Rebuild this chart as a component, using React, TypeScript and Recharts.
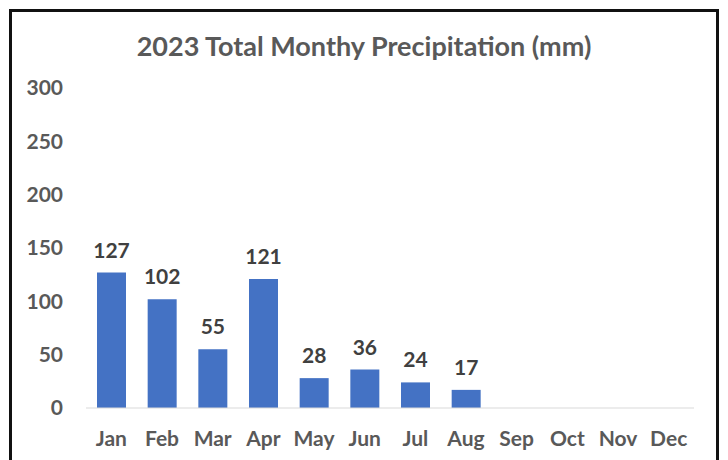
import React from 'react';
import { BarChart, Bar, XAxis, YAxis, LabelList } from 'recharts';

const months = ['Jan', 'Feb', 'Mar', 'Apr', 'May', 'Jun', 'Jul', 'Aug', 'Sep', 'Oct', 'Nov', 'Dec'];
const precipitation: (number | null)[] = [127, 102, 55, 121, 28, 36, 24, 17, null, null, null, null];
const yTicks = [0, 50, 100, 150, 200, 250, 300];

const data = months.map((m, i) => ({ month: m, value: precipitation[i] }));

const FONT = 'Lato, "Open Sans", sans-serif';

export default function App() {
  return (
    <div style={{ position: 'absolute', left: 0, top: 0, width: 728, height: 460, overflow: 'hidden', background: '#fff', fontFamily: FONT }}>
      <div style={{ position: 'absolute', left: 9, top: 9, width: 704, height: 480, border: '3px solid #111' }} />
      <div style={{ position: 'absolute', left: 0, top: 29, width: 728, textAlign: 'center', fontSize: 27, fontWeight: 700, color: '#595959', lineHeight: '34px' }}>
        2023 Total Monthy Precipitation (mm)
      </div>
      <div style={{ position: 'absolute', left: 0, top: 0 }}>
        <BarChart width={728} height={460} data={data} margin={{ top: 88, right: 34, bottom: 0, left: 10 }}>
          <YAxis
            width={76}
            domain={[0, 300]}
            ticks={yTicks}
            axisLine={false}
            tickLine={false}
            tickSize={0}
            tickMargin={23}
            tick={{ fill: '#595959', fontSize: 21, fontWeight: 700, fontFamily: FONT }}
          />
          <XAxis
            dataKey="month"
            height={52}
            axisLine={{ stroke: '#d9d9d9', strokeWidth: 1 }}
            tickLine={false}
            tickSize={0}
            tickMargin={23}
            interval={0}
            tick={{ fill: '#595959', fontSize: 21, fontWeight: 700, fontFamily: FONT }}
          />
          <Bar dataKey="value" fill="#4472C4" barSize={29} isAnimationActive={false}>
            <LabelList
              dataKey="value"
              position="top"
              offset={15}
              formatter={(v: any) => (v == null ? '' : v)}
              style={{ fill: '#404040', fontSize: 21, fontWeight: 700, fontFamily: FONT }}
            />
          </Bar>
        </BarChart>
      </div>
    </div>
  );
}
